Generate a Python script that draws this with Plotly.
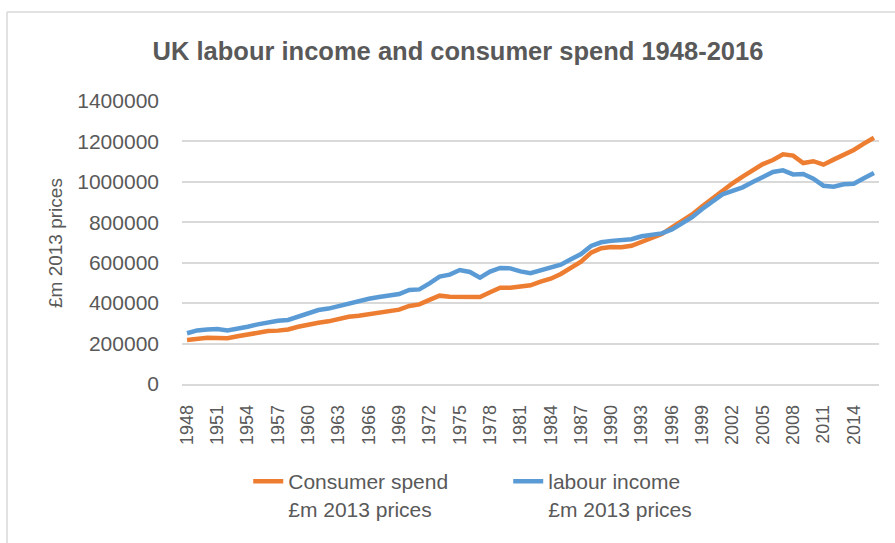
import plotly.graph_objects as go

years = list(range(1948, 2017))

consumer_spend = [218, 222, 229, 227, 226, 236, 246, 257, 262, 264,
                  270, 283, 295, 303, 310, 323, 333, 338, 345, 353,
                  363, 368, 386, 394, 416, 437, 432, 430, 432, 430,
                  454, 476, 476, 480, 488, 506, 521, 544, 575, 605,
                  650, 672, 678, 677, 684, 703, 722, 742, 775, 808,
                  839, 879, 919, 960, 993, 1026, 1057, 1088, 1108, 1136,
                  1130, 1093, 1102, 1085, 1110, 1133, 1158, 1189, 1218]
consumer_spend = [v * 1000 for v in consumer_spend]

labour_income = [251, 265, 270, 272, 265, 272, 283, 295, 305, 313,
                 317, 333, 353, 366, 373, 386, 399, 411, 422, 430,
                 439, 445, 465, 468, 498, 531, 541, 564, 554, 526,
                 556, 574, 572, 557, 548, 562, 574, 590, 617, 643,
                 683, 701, 708, 710, 716, 731, 737, 745, 765, 795,
                 825, 866, 904, 938, 955, 973, 999, 1021, 1049, 1057,
                 1037, 1039, 1016, 981, 976, 988, 991, 1018, 1044]
labour_income = [v * 1000 for v in labour_income]

x_ticks = list(range(1948, 2017, 3))
x_tick_labels = [str(y) for y in x_ticks]
y_ticks = list(range(0, 1400001, 200000))
y_tick_labels = [str(v) for v in y_ticks]

FONT = "Liberation Sans"
GREY = "#595959"

fig = go.Figure()
fig.add_trace(go.Scatter(x=years, y=consumer_spend, mode="lines",
                         name="Consumer spend<br>£m 2013 prices",
                         line=dict(color="#ED7D31", width=4.5)))
fig.add_trace(go.Scatter(x=years, y=labour_income, mode="lines",
                         name="labour income<br>£m 2013 prices",
                         line=dict(color="#5B9BD5", width=4.5)))

fig.update_layout(
    width=895, height=543,
    margin=dict(l=182, r=16, t=101, b=159),
    paper_bgcolor="white", plot_bgcolor="white",
    font=dict(family=FONT, color=GREY, size=21),
    title=dict(text="<b>UK labour income and consumer spend 1948-2016</b>",
               x=(458) / 895, xanchor="center", y=1 - 51 / 543, yanchor="middle",
               font=dict(family=FONT, size=25.5, color=GREY)),
    showlegend=True,
    legend=dict(orientation="h", x=0.095, xanchor="left", y=-0.272, yanchor="top",
                valign="top", entrywidth=215, font=dict(size=21, color=GREY),
                bgcolor="rgba(0,0,0,0)", traceorder="normal"),
)

fig.update_xaxes(range=[1947.5, 2016.5], tickmode="array", tickvals=x_ticks,
                 ticktext=x_tick_labels, tickangle=-90, showgrid=False,
                 showline=True, linecolor="#d9d9d9", linewidth=1.5,
                 ticks="", tickfont=dict(size=18, color=GREY),
                 ticklabelstandoff=12, zeroline=False)
fig.update_yaxes(range=[0, 1400000], tickmode="array", tickvals=y_ticks,
                 ticktext=y_tick_labels, showgrid=True, gridcolor="#d9d9d9",
                 gridwidth=1.5, zeroline=False, showline=False, ticks="",
                 tickfont=dict(size=21, color=GREY), ticklabelstandoff=22)

fig.add_annotation(text="£m 2013 prices", textangle=-90, xref="paper", yref="paper",
                   x=(55 - 182) / 697, y=(384 - 243) / 283, xanchor="center",
                   yanchor="middle", showarrow=False,
                   font=dict(family=FONT, size=19, color=GREY))

# chart frame (left and top edges)
left = (7 - 182) / 697
top = 1 + (101 - 12) / 283
right = (895 - 182) / 697
bottom = -(543 - 384) / 283
fig.add_shape(type="line", xref="paper", yref="paper", x0=left, x1=right, y0=top, y1=top,
              line=dict(color="#d9d9d9", width=1.5))
fig.add_shape(type="line", xref="paper", yref="paper", x0=left, x1=left, y0=top, y1=bottom,
              line=dict(color="#d9d9d9", width=1.5))

fig.write_html("out.html", config={"displayModeBar": False},
               post_script="document.body.style.margin='0';document.body.style.overflow='hidden';")
